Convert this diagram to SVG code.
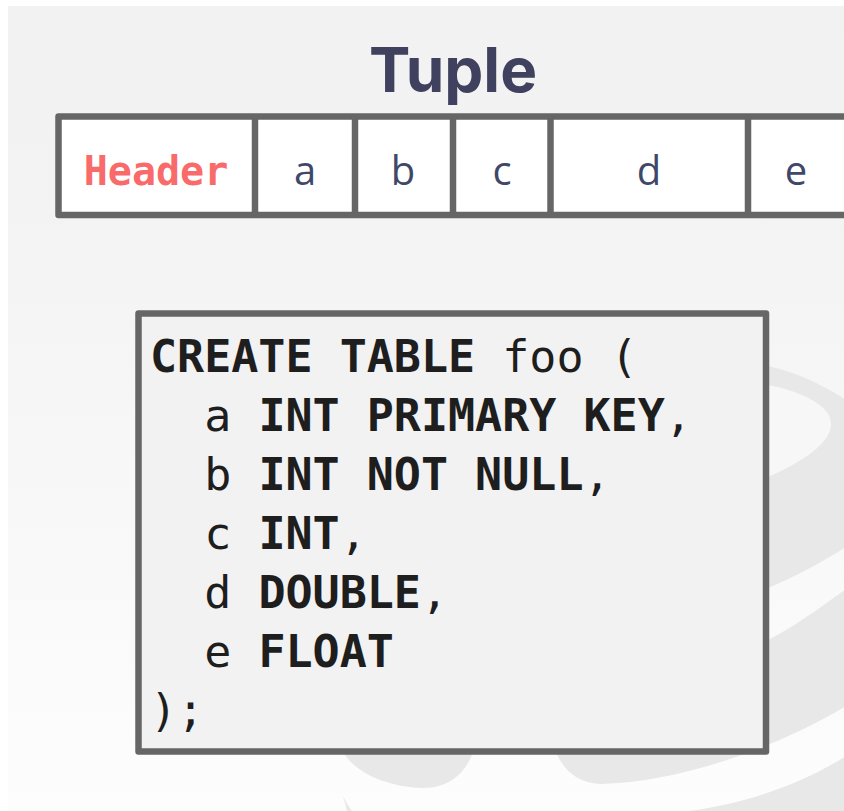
<svg xmlns="http://www.w3.org/2000/svg" width="844" height="811" viewBox="0 0 844 811">
  <defs>
    <linearGradient id="bg" x1="0" y1="0" x2="0" y2="1">
      <stop offset="0" stop-color="#f2f2f2"/>
      <stop offset="0.25" stop-color="#f3f3f3"/>
      <stop offset="1" stop-color="#fdfdfd"/>
    </linearGradient>
  </defs>
  <style>
    .logo { fill: #e8e8e8; }
    .hole { fill: #f7f7f7; }
    .frame { fill: #ffffff; stroke: #666666; stroke-width: 6.5; stroke-linejoin: round; }
    .div { stroke: #666666; stroke-width: 6.5; }
    .title { font-family: Inter, "Noto Sans", sans-serif; font-weight: 700; font-size: 62px; fill: #40405f; }
    .hdr { font-family: "DejaVu Sans Mono", monospace; font-weight: 700; font-size: 40px; fill: #f96b6b; }
    .fld { font-family: "Open Sans", sans-serif; font-weight: 400; font-size: 40px; fill: #3f4869; }
    .box { fill: #f2f2f2; stroke: #666666; stroke-width: 6.5; stroke-linejoin: round; }
    .code { font-family: "DejaVu Sans Mono", monospace; font-size: 45px; fill: #1e1e1e; }
    .kw { font-weight: 700; }
  </style>

  <!-- background -->
  <rect x="0" y="0" width="844" height="811" fill="#ffffff"/>
  <rect x="8" y="6" width="836" height="805" fill="url(#bg)"/>

  <!-- faint database watermark -->
  <g id="watermark">
    <path class="logo" d="M700 355 L768 366 C795 372 822 384 846 400 L846 547 C822 562 795 577 768 588 L700 600 Z"/>
    <path class="hole" d="M700 380 L768 385 C800 391 831 405 831 424 C831 444 800 463 768 477 L700 480 Z"/>
    <path class="logo" d="M846 589 C820 608 795 626 768 640 L700 660 L600 700 L545 745 L556 752 C563 770 578 783 600 784 C690 782 790 740 846 706 Z"/>
    <path class="logo" d="M343 752 C355 772 385 787 423 788 C450 788 466 772 473 752 Z"/>
    <path class="logo" d="M846 756 C800 785 740 806 680 812 L846 812 Z"/>
    <path class="logo" d="M343 796 Q347 805 352 811 L347 811 Z"/>
  </g>

  <!-- title -->
  <g id="title">
    <text class="title" x="453" y="92" text-anchor="middle">Tuple</text>
  </g>

  <!-- tuple layout -->
  <g id="tuple">
    <rect class="frame" x="58.5" y="116.5" width="800" height="98.5"/>
    <g id="cell-header">
      <text class="hdr" x="156" y="185" text-anchor="middle">Header</text>
    </g>
    <g id="cell-a">
      <line class="div" x1="255" y1="116.5" x2="255" y2="215"/>
      <text class="fld" x="305" y="185" text-anchor="middle">a</text>
    </g>
    <g id="cell-b">
      <line class="div" x1="355" y1="116.5" x2="355" y2="215"/>
      <text class="fld" x="403" y="185" text-anchor="middle">b</text>
    </g>
    <g id="cell-c">
      <line class="div" x1="453" y1="116.5" x2="453" y2="215"/>
      <text class="fld" x="502" y="185" text-anchor="middle">c</text>
    </g>
    <g id="cell-d">
      <line class="div" x1="550.5" y1="116.5" x2="550.5" y2="215"/>
      <text class="fld" x="649" y="185" text-anchor="middle">d</text>
    </g>
    <g id="cell-e">
      <line class="div" x1="748" y1="116.5" x2="748" y2="215"/>
      <text class="fld" x="796" y="185" text-anchor="middle">e</text>
    </g>
  </g>

  <!-- SQL box -->
  <g id="sql-box">
    <rect class="box" x="138.5" y="313.5" width="627.5" height="438"/>
    <g class="code">
      <text x="150" y="372"><tspan class="kw">CREATE TABLE</tspan> foo (</text>
      <text x="204.2" y="431">a <tspan class="kw">INT PRIMARY KEY</tspan>,</text>
      <text x="204.2" y="490">b <tspan class="kw">INT NOT NULL</tspan>,</text>
      <text x="204.2" y="549">c <tspan class="kw">INT</tspan>,</text>
      <text x="204.2" y="608">d <tspan class="kw">DOUBLE</tspan>,</text>
      <text x="204.2" y="667">e <tspan class="kw">FLOAT</tspan></text>
      <text x="150" y="726">);</text>
    </g>
  </g>

  <g id="connectors"/>
</svg>
